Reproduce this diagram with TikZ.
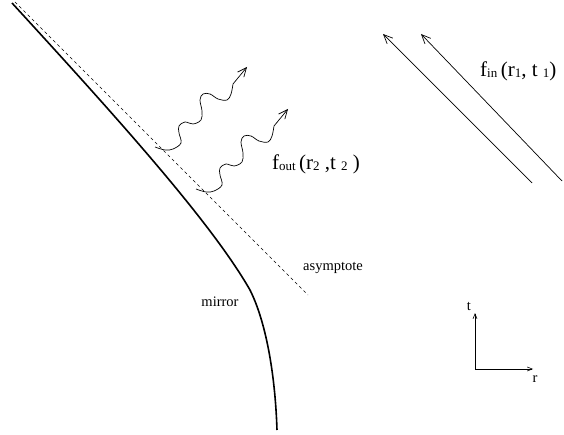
\documentclass[tikz,border=0pt]{standalone}
\usepackage{fontspec}
\setmainfont{Liberation Serif}
\usetikzlibrary{arrows.meta}
\newcommand{\lo}[1]{\raisebox{-1.5pt}{\fontsize{13}{13}\selectfont #1}}
\begin{document}
\begin{tikzpicture}[x=1pt,y=-1pt,every node/.style={font=\fontsize{14.5}{17}\selectfont,inner sep=1pt},
  biglabel/.style={font=\fontsize{21}{25}\selectfont},
  ray/.style={line width=0.7pt,-{Straight Barb[length=9pt,width=8pt]}}]
% mirror, asymptote, rays and axes
\useasboundingbox (0,0) rectangle (564,435);
\coordinate (m0) at (12,3);
\coordinate (mk) at (250,290);
\coordinate (m1) at (277,430);
\draw[line width=1.6pt] (m0) .. controls (110,110) and (210,220) .. (mk) .. controls (265,320) and (275,370) .. (m1);
\coordinate (a0) at (15,2);
\coordinate (a1) at (308,295);
\draw[line width=0.6pt,dash pattern=on 3pt off 3pt] (a0) -- (a1);
\node (asym) at (333,268) {asymptote};
\node (mirlab) at (220,302) {mirror};
% outgoing waves
\coordinate (w1s) at (155,147);
\coordinate (w2s) at (196,189);
\foreach \w in {w1s,w2s}
  \draw[ray,shift={(\w)}] plot[smooth,tension=0.6] coordinates {(0,0) (10,3) (18,2) (26,-4) (24,-14) (24,-21) (30,-25) (38,-23) (46,-27) (47,-36) (45,-47) (48,-53) (55,-53) (63,-48) (72,-47) (76,-53) (78,-63)} -- (92,-80);
\node[biglabel] (fout) at (316,164) {f\lo{out}\,(r\lo{2} ,t \lo{2} )};
% incoming rays
\coordinate (i1s) at (532,183);
\coordinate (i1e) at (383,34);
\coordinate (i2s) at (562,181);
\coordinate (i2e) at (421,34);
\draw[ray] (i1s) -- (i1e);
\draw[ray] (i2s) -- (i2e);
\node[biglabel,anchor=west] (fin) at (479,71) {f\lo{in}\,(r\lo{1}, t \lo{1})};
% axes
\coordinate (o) at (475,369);
\coordinate (ttip) at (475,313);
\coordinate (rtip) at (533,369);
\draw[line width=0.6pt,-{Straight Barb[length=5pt,width=4pt]}] (o) -- (ttip);
\draw[line width=0.6pt,-{Straight Barb[length=5pt,width=4pt]}] (o) -- (rtip);
\node (tlab) at (469,306) {t};
\node (rlab) at (535,379) {r};
\end{tikzpicture}
\end{document}
